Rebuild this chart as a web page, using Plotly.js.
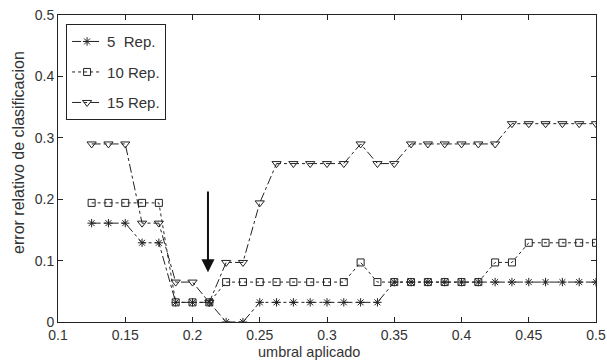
<!DOCTYPE html>
<html>
<head>
<meta charset="utf-8">
<script src="https://cdn.plot.ly/plotly-3.0.1.min.js"></script>
<style>html,body{margin:0;padding:0;background:#fff;}#chart{width:607px;height:362px;}</style>
</head>
<body>
<div id="chart"></div>
<script>
// Threshold values (umbral aplicado)
const umbral = [0.125,0.1375,0.15,0.1625,0.175,0.1875,0.2,0.2125,0.225,0.2375,
                0.25,0.2625,0.275,0.2875,0.3,0.3125,0.325,0.3375,0.35,0.3625,
                0.375,0.3875,0.4,0.4125,0.425,0.4375,0.45,0.4625,0.475,0.4875,0.5];

// Relative classification error for each number of repetitions
const rep5  = [0.161,0.161,0.161,0.129,0.129,0.032,0.032,0.032,0.0,0.0,
               0.032,0.032,0.032,0.032,0.032,0.032,0.032,0.032,0.065,0.065,
               0.065,0.065,0.065,0.065,0.065,0.065,0.065,0.065,0.065,0.065,0.065];
const rep10 = [0.194,0.194,0.194,0.194,0.194,0.032,0.032,0.032,0.065,0.065,
               0.065,0.065,0.065,0.065,0.065,0.065,0.097,0.065,0.065,0.065,
               0.065,0.065,0.065,0.065,0.097,0.097,0.129,0.129,0.129,0.129,0.129];
const rep15 = [0.290,0.290,0.290,0.161,0.161,0.065,0.065,0.032,0.097,0.097,
               0.194,0.258,0.258,0.258,0.258,0.258,0.290,0.258,0.258,0.290,
               0.290,0.290,0.290,0.290,0.290,0.323,0.323,0.323,0.323,0.323,0.323];

const seriesNames = ['5\u00a0\u00a0Rep.', '10 Rep.', '15 Rep.'];
const xTitle = 'umbral aplicado';
const yTitle = 'error relativo de clasificacion';

const ink = '#222';
const sans = 'Liberation Sans, Arial, sans-serif';
const tickFont = {family: sans, size: 14, color: '#333'};

const traces = [
  {x: umbral, y: rep5, name: seriesNames[0], legendgroup: 'a', mode: 'lines+markers',
   line: {color: ink, width: 1, dash: 'dashdot'},
   marker: {symbol: 'asterisk-open', size: 7, color: ink, line: {color: ink, width: 1}}},
  {x: umbral, y: rep10, name: seriesNames[1], legendgroup: 'b', mode: 'lines+markers',
   line: {color: ink, width: 1, dash: '3px,3px'},
   marker: {symbol: 'square-open', size: 7, color: ink, line: {color: ink, width: 1}}},
  {x: umbral, y: rep15, name: seriesNames[2], legendgroup: 'c', mode: 'lines+markers',
   line: {color: ink, width: 1, dash: '9px,3px,3px,3px'},
   marker: {symbol: 'triangle-down-open', size: 8, color: ink, line: {color: ink, width: 1}}}
];

const layout = {
  width: 607, height: 362,
  margin: {l: 58, r: 11, t: 15, b: 40},
  paper_bgcolor: '#fff', plot_bgcolor: '#fff',
  showlegend: true,
  legend: {x: 0.015, y: 0.97, xanchor: 'left', yanchor: 'top',
           bgcolor: '#fff', bordercolor: '#222', borderwidth: 1,
           font: {family: sans, size: 15, color: '#333'},
           tracegroupgap: 8},
  xaxis: {range: [0.1, 0.5], dtick: 0.05, tick0: 0.1,
          showgrid: false, zeroline: false, showline: true, mirror: 'ticks',
          linecolor: '#222', linewidth: 1, ticks: 'inside', ticklen: 5, tickcolor: '#222',
          tickfont: tickFont},
  yaxis: {range: [0, 0.5], dtick: 0.1, showgrid: false, zeroline: false,
          showline: true, mirror: 'ticks', linecolor: '#222', linewidth: 1,
          ticks: 'inside', ticklen: 5, tickcolor: '#222', tickfont: tickFont},
  annotations: [
    {x: 0.2115, y: 0.081, xref: 'x', yref: 'y',
     ax: 0.2115, ay: 0.215, axref: 'x', ayref: 'y',
     text: '', showarrow: true, arrowhead: 2, arrowsize: 1.3, arrowwidth: 2, arrowcolor: '#111'},
    {text: xTitle, xref: 'paper', yref: 'paper', x: 0.467, y: -0.099,
     xanchor: 'center', yanchor: 'middle', showarrow: false,
     font: {family: sans, size: 14.5, color: '#333'}},
    {text: yTitle, xref: 'paper', yref: 'paper', x: -0.0725, y: 0.554,
     xanchor: 'center', yanchor: 'middle', textangle: -90, showarrow: false,
     font: {family: sans, size: 16, color: '#333'}}
  ]
};

Plotly.newPlot('chart', traces, layout, {staticPlot: true, displayModeBar: false});
</script>
</body>
</html>
